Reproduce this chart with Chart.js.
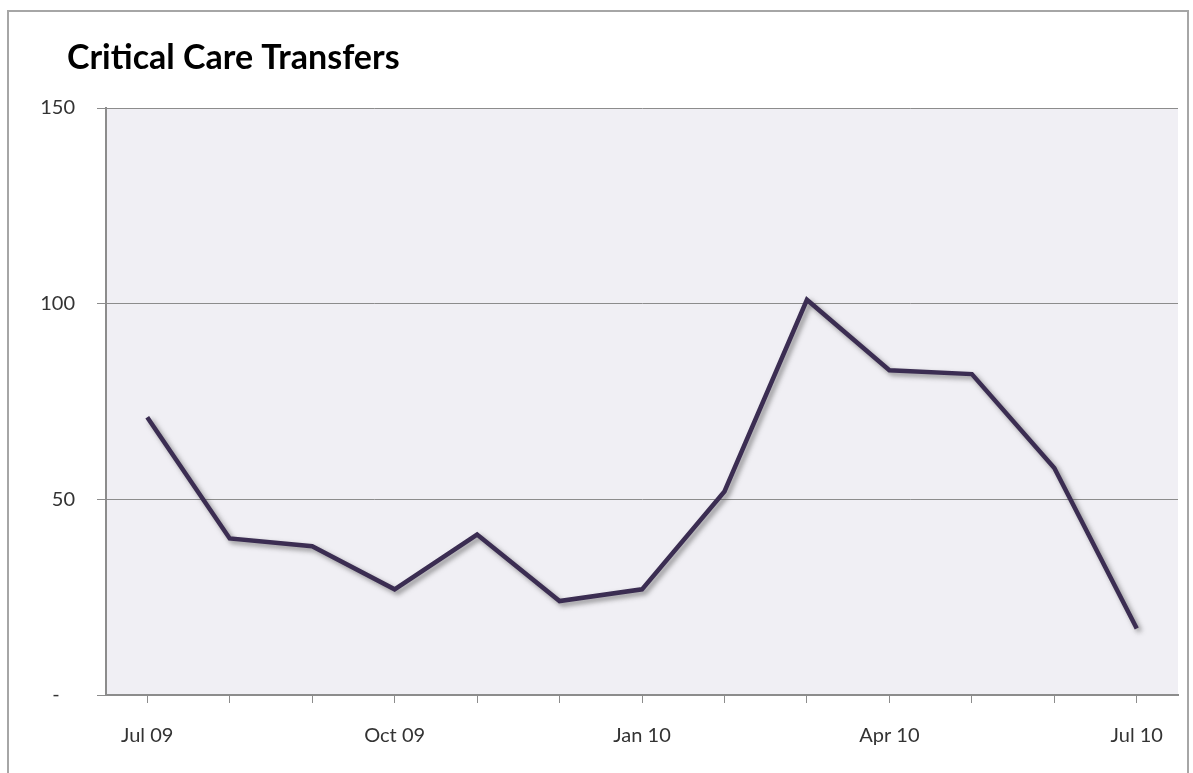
<!DOCTYPE html>
<html>
<head>
<meta charset="utf-8">
<script src="https://cdn.jsdelivr.net/npm/chart.js@4"></script>
<style>
    html, body { margin: 0; padding: 0; background: #fff; }
    .frame { position: absolute; left: 7px; top: 10px; width: 1182px; height: 780px; border: 2px solid #a6a6a6; box-sizing: border-box; }
    .wrap { position: absolute; left: 0; top: 0; width: 1193px; height: 773px; }
</style>
</head>
<body>
<div class="frame"></div>
<div class="wrap"><canvas id="chart"></canvas></div>
<script>
const chartTitle = 'Critical Care Transfers';
const months = ['Jul 09', 'Aug 09', 'Sep 09', 'Oct 09', 'Nov 09', 'Dec 09', 'Jan 10',
    'Feb 10', 'Mar 10', 'Apr 10', 'May 10', 'Jun 10', 'Jul 10'];
const transfers = [71, 40, 38, 27, 41, 24, 27, 52, 101, 83, 82, 58, 17];
const yTicks = [0, 50, 100, 150];

// plot area fill + line shadow + title
const decor = {
    id: 'decor',
    beforeDraw(chart) {
        const { ctx, chartArea: a } = chart;
        ctx.save();
        ctx.fillStyle = '#f0eff4';
        ctx.fillRect(a.left, a.top, a.right - a.left, a.bottom - a.top);
        ctx.restore();
    },
    beforeDatasetsDraw(chart) {
        const ctx = chart.ctx;
        ctx.save();
        ctx.shadowColor = 'rgba(60, 60, 60, 0.55)';
        ctx.shadowBlur = 5;
        ctx.shadowOffsetX = 3;
        ctx.shadowOffsetY = 3;
    },
    afterDatasetsDraw(chart) {
        chart.ctx.restore();
    },
    afterDraw(chart) {
        const ctx = chart.ctx;
        ctx.save();
        ctx.font = 'bold 34px Lato, "Noto Sans", sans-serif';
        ctx.fillStyle = '#000';
        ctx.textBaseline = 'alphabetic';
        ctx.fillText(chartTitle, 67, 69);
        ctx.restore();
    }
};

new Chart(document.getElementById('chart'), {
    type: 'line',
    data: {
        labels: months,
        datasets: [{
            label: chartTitle,
            data: transfers,
            borderColor: '#3b2d52',
            borderWidth: 4.5,
            pointRadius: 0,
            tension: 0,
            fill: false
        }]
    },
    options: {
        responsive: true,
        maintainAspectRatio: false,
        animation: false,
        layout: { padding: { left: 0, right: 15, top: 108, bottom: 0 } },
        plugins: { legend: { display: false }, tooltip: { enabled: false } },
        scales: {
            x: {
                offset: true,
                grid: { offset: false, drawOnChartArea: false, color: '#8c8c8c', tickLength: 8 },
                border: { color: '#8c8c8c', width: 2 },
                ticks: {
                    autoSkip: false,
                    maxRotation: 0,
                    padding: 21,
                    color: '#333',
                    font: { family: 'Lato, "Noto Sans", sans-serif', size: 20 },
                    callback: (v, i) => (i % 3 === 0 ? months[i] : '')
                },
                afterFit(s) { s.height = 78; }
            },
            y: {
                min: 0,
                max: 150,
                afterBuildTicks(s) { s.ticks = yTicks.map(v => ({ value: v })); },
                grid: { color: '#8c8c8c', tickLength: 9 },
                border: { color: '#8c8c8c', width: 2 },
                ticks: {
                    padding: 22,
                    color: '#333',
                    font: { family: 'Lato, "Noto Sans", sans-serif', size: 20 },
                    callback: v => (v === 0 ? '-   ' : v)
                },
                afterFit(s) { s.width = 106; }
            }
        }
    },
    plugins: [decor]
});
</script>
</body>
</html>
